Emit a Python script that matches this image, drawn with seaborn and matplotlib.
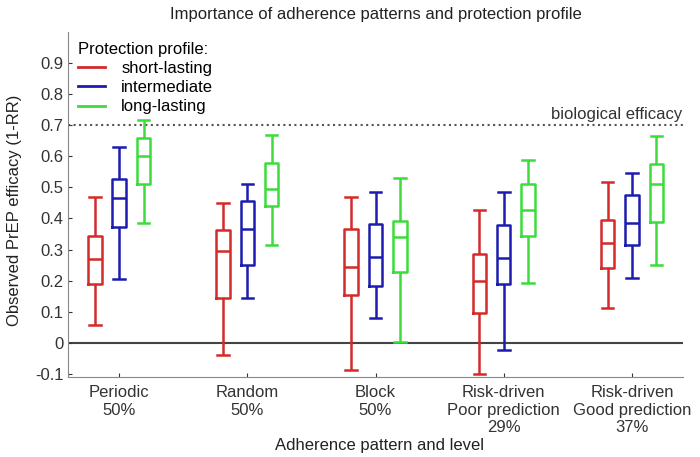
import pandas as pd
import seaborn as sns
import matplotlib.pyplot as plt
from matplotlib.lines import Line2D

# Datos: [min, q1, mediana, q3, max] por patron
patrones = ["Periodic\n50%", "Random\n50%", "Block\n50%",
            "Risk-driven\nPoor prediction\n29%", "Risk-driven\nGood prediction\n37%"]
perfiles = ["short-lasting", "intermediate", "long-lasting"]
colores = ["#d42a2a", "#1c1cb0", "#3cdc3c"]

short_lasting = [[0.057, 0.19, 0.27, 0.345, 0.47],
                 [-0.038, 0.144, 0.297, 0.364, 0.45],
                 [-0.086, 0.153, 0.243, 0.367, 0.47],
                 [-0.10, 0.096, 0.198, 0.287, 0.428],
                 [0.112, 0.24, 0.32, 0.396, 0.518]]
intermediate = [[0.205, 0.374, 0.467, 0.527, 0.63],
                [0.144, 0.25, 0.367, 0.457, 0.51],
                [0.08, 0.182, 0.275, 0.383, 0.486],
                [-0.022, 0.188, 0.272, 0.38, 0.486],
                [0.21, 0.316, 0.387, 0.476, 0.546]]
long_lasting = [[0.387, 0.51, 0.60, 0.658, 0.716],
                [0.316, 0.44, 0.495, 0.58, 0.668],
                [0.003, 0.227, 0.339, 0.393, 0.53],
                [0.192, 0.345, 0.428, 0.511, 0.588],
                [0.249, 0.39, 0.511, 0.575, 0.665]]

# DataFrame largo: con 5 puntos los cuartiles caen justo en los valores
filas = []
for perfil, stats in zip(perfiles, [short_lasting, intermediate, long_lasting]):
    for patron, vals in zip(patrones, stats):
        for v in vals:
            filas.append({"patron": patron, "perfil": perfil, "eficacia": v})
df = pd.DataFrame(filas)

plt.rcParams['font.family'] = ['Liberation Sans', 'DejaVu Sans']
fs = 12
fig = plt.figure(figsize=(7, 4.57), dpi=100)
ax = fig.add_axes([0.097, 0.175, 0.879, 0.755])

sns.boxplot(data=df, x="patron", y="eficacia", hue="perfil", order=patrones,
            hue_order=perfiles, palette=colores, fill=False, whis=(0, 100),
            width=0.57, gap=0.45, linewidth=1.8, legend=False, ax=ax,
            capwidths=0.09)

ax.axhline(0.7, color="#555555", linestyle=":", linewidth=1.5, zorder=1)
ax.axhline(0, color="#444444", linewidth=1.5, zorder=1)
ax.text(4.39, 0.712, "biological efficacy", ha="right", va="bottom",
        fontsize=fs, color="#333333")

ax.set_xlim(-0.4, 4.4)
ax.set_ylim(-0.11, 1.0)
ax.set_yticks([-0.1, 0, 0.1, 0.2, 0.3, 0.4, 0.5, 0.6, 0.7, 0.8, 0.9])
ax.set_yticklabels(["-0.1", "0", "0.1", "0.2", "0.3", "0.4", "0.5", "0.6", "0.7", "0.8", "0.9"])
ax.tick_params(direction="in", length=3, labelsize=fs, colors="#333333")
ax.tick_params(axis="x", pad=6)
ax.tick_params(axis="y", pad=3)
ax.spines["top"].set_visible(False)
ax.spines["right"].set_visible(False)
ax.spines["left"].set_color("#888888")
ax.spines["bottom"].set_color("#888888")

ax.set_title("Importance of adherence patterns and protection profile",
             fontsize=fs, color="#222222", pad=9)
ax.set_xlabel("Adherence pattern and level", fontsize=fs, color="#222222")
ax.xaxis.set_label_coords(0.506, -0.177)
ax.set_ylabel("Observed PrEP efficacy (1-RR)", fontsize=fs, color="#222222")
ax.yaxis.set_label_coords(-0.075, 0.484)

handles = [Line2D([0], [0], color=c, lw=2) for c in colores]
leg = ax.legend(handles, perfiles, title="Protection profile:", loc="upper left",
                frameon=False, fontsize=fs, title_fontsize=fs, alignment="left",
                handlelength=1.6, handletextpad=1.0, labelspacing=0.25,
                borderaxespad=0.2)

plt.savefig("out.png", dpi=100)
